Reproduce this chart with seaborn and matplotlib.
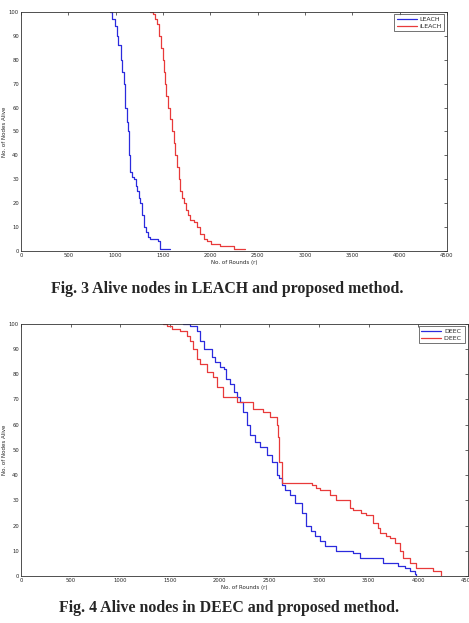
import pandas as pd
import matplotlib
matplotlib.use('Agg')
import matplotlib.pyplot as plt
import seaborn as sns

# Fig. 3 data (rounds where the alive count changes)
leach_x = [940, 960, 990, 1014, 1030, 1056, 1070, 1084, 1095, 1102, 1115, 1130, 1144, 1150, 1155,
           1175, 1190, 1210, 1225, 1245, 1260, 1280, 1302, 1320, 1340, 1366, 1443, 1464, 1577]
leach_y = [100, 97, 94, 90, 86, 80, 75, 70, 65, 60, 54, 50, 40, 36, 33,
           31, 30, 27, 25, 22, 20, 15, 10, 8, 6, 5, 4, 1, 1]
ileach_x = [1366, 1400, 1419, 1436, 1457, 1475, 1496, 1510, 1521, 1535, 1552, 1570, 1595, 1612, 1630, 1648,
            1665, 1683, 1700, 1718, 1740, 1764, 1790, 1823, 1859, 1894, 1929, 1970, 2006, 2105, 2246, 2369]
ileach_y = [100, 99, 97, 95, 90, 85, 80, 75, 70, 65, 60, 55, 50, 45, 40, 35,
            30, 25, 22, 20, 17, 15, 13, 12, 10, 7, 5, 4, 3, 2, 1, 1]

# Fig. 4 data
deec_x = [1635, 1700, 1769, 1802, 1843, 1920, 1953, 2003, 2040, 2064, 2104, 2140, 2171, 2204, 2238, 2271,
          2305, 2355, 2405, 2472, 2522, 2573, 2600, 2623, 2656, 2707, 2757, 2824, 2874, 2920, 2958, 3008,
          3058, 3176, 3344, 3411, 3645, 3795, 3862, 3913, 3963, 3980]
deec_y = [100, 99, 97, 93, 90, 87, 85, 83, 82, 78, 76, 73, 71, 69, 65, 60,
          56, 53, 51, 48, 45, 40, 39, 36, 34, 32, 29, 25, 20, 18, 16, 14,
          12, 10, 9, 7, 5, 4, 3, 2, 1, 0]
ideec_x = [1434, 1468, 1518, 1601, 1668, 1702, 1735, 1769, 1802, 1869, 1936, 1970, 2037, 2171, 2338, 2439,
           2505, 2573, 2590, 2600, 2623, 2925, 2975, 3008, 3109, 3176, 3310, 3344, 3428, 3478, 3545, 3595,
           3611, 3678, 3712, 3762, 3812, 3846, 3913, 3980, 4148, 4232]
ideec_y = [100, 99, 98, 97, 95, 93, 90, 86, 84, 81, 79, 75, 71, 69, 66, 65,
           63, 60, 55, 45, 37, 36, 35, 34, 32, 30, 27, 26, 25, 24, 21, 19,
           17, 16, 15, 13, 10, 7, 5, 3, 2, 0]

xticks = list(range(0, 4501, 500))
yticks = list(range(0, 101, 10))

sns.set_style('white')
plt.rcParams['font.family'] = ['DejaVu Sans']

df3 = pd.concat([
    pd.DataFrame({'rounds': leach_x, 'alive': leach_y, 'method': 'LEACH'}),
    pd.DataFrame({'rounds': ileach_x, 'alive': ileach_y, 'method': 'iLEACH'}),
])
df4 = pd.concat([
    pd.DataFrame({'rounds': deec_x, 'alive': deec_y, 'method': 'DEEC'}),
    pd.DataFrame({'rounds': ideec_x, 'alive': ideec_y, 'method': 'DEEC '}),
])

fig = plt.figure(figsize=(4.69, 6.23), dpi=100)
ax1 = fig.add_axes([0.0448, 0.597, 0.908, 0.384])
ax2 = fig.add_axes([0.0448, 0.0754, 0.953, 0.405])

sns.lineplot(data=df3, x='rounds', y='alive', hue='method', estimator=None, sort=False,
             palette={'LEACH': '#2b2bdd', 'iLEACH': '#e83a3a'}, drawstyle='steps-post',
             linewidth=0.9, ax=ax1)
sns.lineplot(data=df4, x='rounds', y='alive', hue='method', estimator=None, sort=False,
             palette={'DEEC': '#2b2bdd', 'DEEC ': '#e83a3a'}, drawstyle='steps-post',
             linewidth=0.9, ax=ax2)

for ax in (ax1, ax2):
    ax.set_xlim(0, 4500)
    ax.set_ylim(0, 100)
    ax.set_xticks(xticks)
    ax.set_yticks(yticks)
    ax.tick_params(direction='in', top=True, right=True, length=2.5, width=0.5,
                   labelsize=3.8, pad=1.5)
    ax.set_xlabel('No. of Rounds (r)', fontsize=4, labelpad=1.5)
    ax.set_ylabel('No. of Nodes Alive', fontsize=4, labelpad=1)
    for s in ax.spines.values():
        s.set_linewidth(0.6)
        s.set_color('#333333')
    leg = ax.legend(loc='upper right', fontsize=4.5, handlelength=3.2, frameon=True,
                    fancybox=False, borderpad=0.35, labelspacing=0.25, handletextpad=0.5,
                    borderaxespad=0.4)
    leg.get_frame().set_edgecolor('#333333')
    leg.get_frame().set_linewidth(0.6)

fig.text(0.485, 1 - 289 / 623, 'Fig. 3 Alive nodes in LEACH and proposed method.',
         ha='center', va='center', fontsize=11.4, fontweight='bold', family='Liberation Serif')
fig.text(0.488, 1 - 608 / 623, 'Fig. 4 Alive nodes in DEEC and proposed method.',
         ha='center', va='center', fontsize=11.4, fontweight='bold', family='Liberation Serif')

fig.savefig('out.png', dpi=100)
